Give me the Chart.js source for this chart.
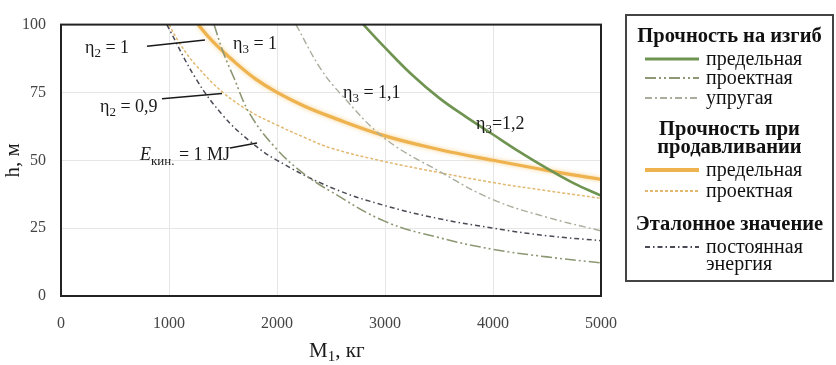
<!DOCTYPE html>
<html>
<head>
<meta charset="utf-8">
<script src="https://cdn.jsdelivr.net/npm/chart.js@4.4.1/dist/chart.umd.min.js"></script>
<style>
  body { margin: 0; background: #fff; }
  #wrap { position: relative; width: 836px; height: 365px; }
  #legend { position: absolute; left: 625px; top: 14px; width: 209px; height: 268px;
            border: 2px solid #444; box-sizing: border-box; font-family: "Liberation Serif", serif; color: #111; }
  #legend .t { position: absolute; left: 0; width: 100%; text-align: center; font-weight: bold; font-size: 20.5px; line-height: 20px; white-space: nowrap; }
  #legend .i { position: absolute; left: 79px; font-size: 20px; line-height: 20px; white-space: nowrap; }
  #legend svg { position: absolute; left: 18px; }
</style>
</head>
<body>
<div id="wrap">
  <canvas id="chart" width="836" height="365"></canvas>
  <div id="legend"></div>
</div>
<script>
// Data (M1 in kg, h in m)
const bendUltM = [2800, 3000, 3250, 3500, 3750, 4000, 4250, 4500, 4750, 5000];
const bendUltH = [100, 91.5, 81.5, 73, 66, 59.5, 53, 47, 41.5, 37];

const bendDesM = [1417, 1500, 1600, 1750, 2000, 2250, 2500, 3000, 3500, 4000, 4500, 5000];
const bendDesH = [100, 90, 80.5, 67, 54, 45, 38.5, 27.5, 21.5, 17.2, 14.4, 12.2];

const bendElM = [2176, 2400, 2600, 3000, 3500, 4000, 4500, 5000];
const bendElH = [100, 84, 74, 58, 46, 35.5, 29, 24];

const punchUltM = [1270, 1400, 1600, 1800, 2000, 2250, 2500, 3000, 3500, 4000, 4500, 5000];
const punchUltH = [100, 94, 86.5, 80, 75, 70, 66, 59, 54, 50, 46.3, 43];

const punchDesM = [1000, 1100, 1250, 1500, 1750, 2000, 2250, 2500, 3000, 3500, 4000, 4500, 5000];
const punchDesH = [100, 93, 85, 75, 68, 63, 58.5, 54.5, 49.5, 45.5, 41.8, 38.8, 36];

const energyM = [980, 1250, 1500, 1750, 2000, 2500, 3000, 3500, 4000, 4500, 5000];
const energyH = [100, 80, 66.5, 57, 50, 40, 33.3, 28.5, 25, 22.2, 20.4];

const xTicks = [0, 1000, 2000, 3000, 4000, 5000];
const yTicks = [0, 25, 50, 75, 100];

const pts = (xs, ys) => xs.map((x, i) => ({ x: x, y: ys[i] }));

const SERIF = '"Liberation Serif", "Times New Roman", serif';

const styles = {
  bendUlt:  { color: '#6f9350', width: 2.6, dash: [] },
  bendDes:  { color: '#8c9873', width: 1.6, dash: [11, 3, 2, 3, 2, 3] },
  bendEl:   { color: '#a9ae9c', width: 1.4, dash: [7, 3, 2, 3] },
  punchUlt: { color: '#eeb24e', width: 3.2, dash: [] },
  punchDes: { color: '#e2b870', width: 1.5, dash: [3, 2] },
  energy:   { color: '#4a4a55', width: 1.5, dash: [5, 3, 1.5, 3] }
};

function ds(label, data, st) {
  return {
    label: label, data: data, showLine: true, pointRadius: 0,
    borderColor: st.color, borderWidth: st.width, borderDash: st.dash,
    tension: 0.4, fill: false
  };
}

// labels drawn on the plot: anchor in data units
const notes = [
  { x: 222, y: 91.3, parts: [['η'], ['2', 1], [' = 1']], lead: [796, 92, 1333, 94.3] },
  { x: 1593, y: 92.7, parts: [['η'], ['3', 1], [' = 1']] },
  { x: 361, y: 69.6, parts: [['η'], ['2', 1], [' = 0,9']], lead: [935, 72.7, 1491, 74.6] },
  { x: 731, y: 51.7, parts: [['E', 2], ['кин.', 1], [' = 1 MJ']], lead: [1565, 54.5, 1815, 56.4] },
  { x: 2611, y: 74.8, parts: [['η'], ['3', 1], [' = 1,1']] },
  { x: 3843, y: 63.3, parts: [['η'], ['3', 1], ['=1,2']] }
];

function richText(ctx, x, y, parts, size) {
  ctx.textBaseline = 'middle';
  ctx.textAlign = 'left';
  parts.forEach(p => {
    const sub = p[1] === 1;
    const ital = p[1] === 2;
    ctx.font = (ital ? 'italic ' : '') + (sub ? Math.round(size * 0.72) : size) + 'px ' + SERIF;
    ctx.fillText(p[0], x, sub ? y + size * 0.3 : y);
    x += ctx.measureText(p[0]).width;
  });
}

const extras = {
  id: 'extras',
  beforeDatasetDraw(chart, args) {
    if (args.index === 3) {
      chart.ctx.save();
      chart.ctx.shadowColor = 'rgba(246,205,130,0.9)';
      chart.ctx.shadowBlur = 4;
    }
  },
  afterDatasetDraw(chart, args) {
    if (args.index === 3) chart.ctx.restore();
  },
  afterDraw(chart) {
    const ctx = chart.ctx, a = chart.chartArea;
    const xs = chart.scales.x, ys = chart.scales.y;
    ctx.save();
    ctx.strokeStyle = '#222';
    ctx.lineWidth = 2;
    ctx.strokeRect(a.left, a.top, a.right - a.left, a.bottom - a.top);

    ctx.fillStyle = '#1a1a1a';
    ctx.strokeStyle = '#1a1a1a';
    ctx.lineWidth = 1.5;
    notes.forEach(n => {
      richText(ctx, xs.getPixelForValue(n.x), ys.getPixelForValue(n.y), n.parts, 18);
      if (n.lead) {
        ctx.beginPath();
        ctx.moveTo(xs.getPixelForValue(n.lead[0]), ys.getPixelForValue(n.lead[1]));
        ctx.lineTo(xs.getPixelForValue(n.lead[2]), ys.getPixelForValue(n.lead[3]));
        ctx.stroke();
      }
    });

    // axis titles
    richText(ctx, 309, 351, [['M'], ['1', 1], [', кг']], 21);
    ctx.save();
    ctx.translate(13, (a.top + a.bottom) / 2);
    ctx.rotate(-Math.PI / 2);
    ctx.font = '21px ' + SERIF;
    ctx.textAlign = 'center';
    ctx.textBaseline = 'middle';
    ctx.fillText('h, м', 0, 0);
    ctx.restore();
    ctx.restore();
  }
};

new Chart(document.getElementById('chart'), {
  type: 'scatter',
  data: {
    datasets: [
      ds('Прочность на изгиб — предельная', pts(bendUltM, bendUltH), styles.bendUlt),
      ds('Прочность на изгиб — проектная', pts(bendDesM, bendDesH), styles.bendDes),
      ds('Прочность на изгиб — упругая', pts(bendElM, bendElH), styles.bendEl),
      ds('Прочность при продавливании — предельная', pts(punchUltM, punchUltH), styles.punchUlt),
      ds('Прочность при продавливании — проектная', pts(punchDesM, punchDesH), styles.punchDes),
      ds('Эталонное значение — постоянная энергия', pts(energyM, energyH), styles.energy)
    ]
  },
  options: {
    responsive: false,
    animation: false,
    layout: { padding: { top: 10, right: 235, left: 0, bottom: 0 } },
    plugins: { legend: { display: false }, tooltip: { enabled: false } },
    scales: {
      x: {
        type: 'linear', min: 0, max: 5000,
        afterBuildTicks: s => { s.ticks = xTicks.map(v => ({ value: v })); },
        afterFit: s => { s.height = 69; },
        grid: { color: '#e6e6e6', drawTicks: false },
        border: { color: '#222', width: 2 },
        ticks: { padding: 18, color: '#444', font: { family: SERIF, size: 16 }, callback: v => String(v) }
      },
      y: {
        type: 'linear', min: 0, max: 100,
        afterBuildTicks: s => { s.ticks = yTicks.map(v => ({ value: v })); },
        afterFit: s => { s.width = 61; },
        grid: { color: '#e6e6e6', drawTicks: false },
        border: { color: '#222', width: 2 },
        ticks: { padding: 15, color: '#444', font: { family: SERIF, size: 16 }, callback: v => String(v) }
      }
    }
  },
  plugins: [extras]
});

// legend (html)
const legendRows = [
  { t: 'Прочность на изгиб', y: 9 },
  { i: 'предельная', y: 32, st: styles.bendUlt },
  { i: 'проектная', y: 51, st: styles.bendDes },
  { i: 'упругая', y: 71, st: styles.bendEl },
  { t: 'Прочность при', y: 102 },
  { t: 'продавливании', y: 120 },
  { i: 'предельная', y: 143, st: styles.punchUlt },
  { i: 'проектная', y: 164, st: styles.punchDes },
  { t: 'Эталонное значение', y: 197 },
  { i: 'постоянная', y: 220, st: styles.energy },
  { i: 'энергия', y: 237 }
];
const leg = document.getElementById('legend');
legendRows.forEach(r => {
  const d = document.createElement('div');
  d.className = r.t ? 't' : 'i';
  d.style.top = r.y + 'px';
  d.textContent = r.t || r.i;
  leg.appendChild(d);
  if (r.st) {
    const svg = document.createElementNS('http://www.w3.org/2000/svg', 'svg');
    svg.setAttribute('width', '54');
    svg.setAttribute('height', '8');
    svg.style.top = (r.y + 7) + 'px';
    const ln = document.createElementNS('http://www.w3.org/2000/svg', 'line');
    ln.setAttribute('x1', '0'); ln.setAttribute('x2', '54');
    ln.setAttribute('y1', '4'); ln.setAttribute('y2', '4');
    ln.setAttribute('stroke', r.st.color);
    ln.setAttribute('stroke-width', r.st.width + 0.6);
    if (r.st.dash.length) ln.setAttribute('stroke-dasharray', r.st.dash.join(' '));
    svg.appendChild(ln);
    leg.appendChild(svg);
  }
});
</script>
</body>
</html>
